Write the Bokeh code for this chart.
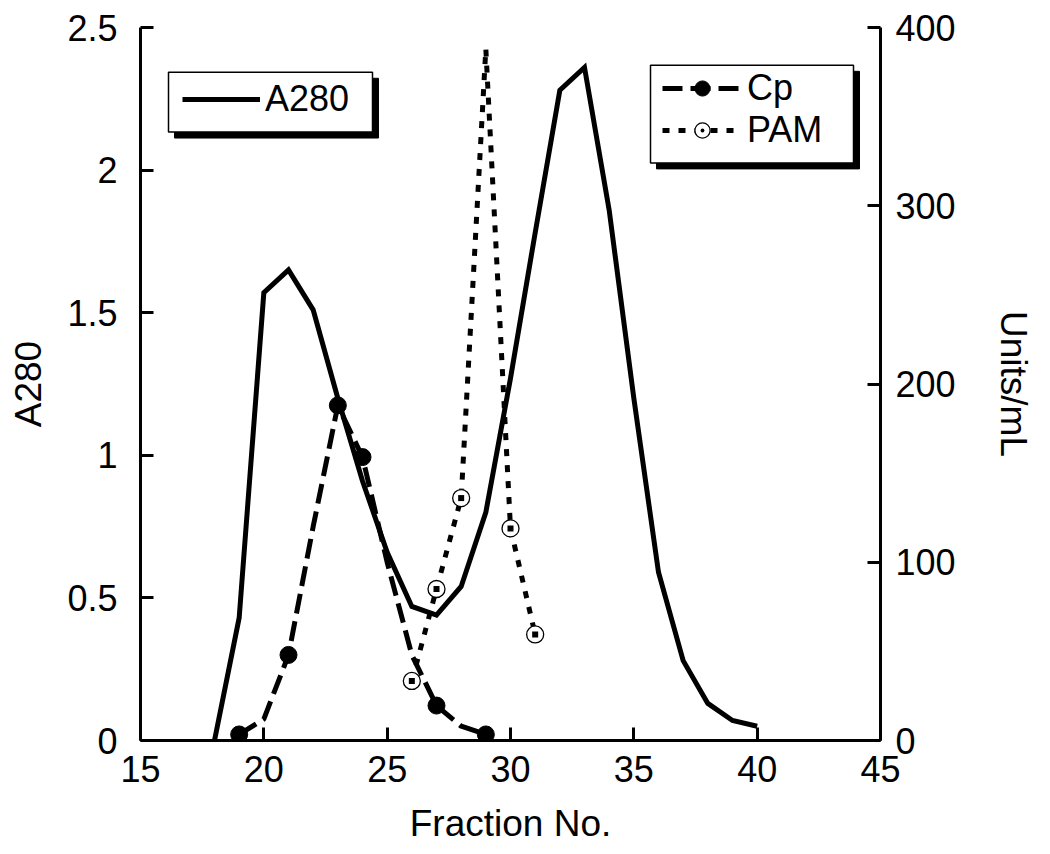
from bokeh.plotting import figure
from bokeh.models import (Range1d, LinearAxis, FixedTicker, CustomJSTickFormatter,
                          Legend, LegendItem, BoxAnnotation)
from bokeh.embed import file_html
from bokeh.resources import INLINE

# ---------------- data ----------------
a280_fraction = list(range(18, 41))
a280_values = [0, 0.43, 1.57, 1.65, 1.51, 1.2, 0.91, 0.66, 0.47, 0.44, 0.54, 0.8,
               1.27, 1.78, 2.28, 2.36, 1.86, 1.2, 0.59, 0.28, 0.13, 0.07, 0.05]

cp_fraction = [19, 20, 21, 22, 23, 24, 25, 26, 27, 28, 29]
cp_units = [3.4, 12, 48, 120, 188, 159, 100, 48, 19.6, 8, 3.4]
cp_marked_fractions = [19, 21, 23, 24, 27, 29]

pam_fraction = [26, 27, 28, 29, 30, 31]
pam_units = [33.4, 85, 136, 388, 119, 59.5]
pam_marked_fractions = [26, 27, 28, 30, 31]

x_ticks = [15, 20, 25, 30, 35, 40, 45]
a280_ticks = [0, 0.5, 1, 1.5, 2, 2.5]
units_ticks = [0, 100, 200, 300, 400]

# ---------------- layout ----------------
FONT = "Liberation Sans"
BL, BR, BT, BB = 140, 162, 27, 103
FW, FH = 740, 716
W, H = BL + FW + BR, BT + FH + BB
X0, X1, Y0, Y1, U1 = 15, 45, 0, 2.5, 400

p = figure(width=W, height=H, output_backend="svg", toolbar_location=None,
           x_range=Range1d(X0, X1), y_range=Range1d(Y0, Y1),
           min_border_left=BL, min_border_right=BR, min_border_top=BT, min_border_bottom=BB,
           background_fill_color="white", border_fill_color="white")
p.extra_y_ranges = {"units": Range1d(0, U1)}
p.outline_line_color = None
p.grid.visible = False

fmt = CustomJSTickFormatter(code="return tick.toString();")


def style_axis(ax, ticks, label, standoff, label_standoff):
    ax.ticker = FixedTicker(ticks=ticks)
    ax.formatter = fmt
    ax.axis_label = label
    ax.axis_line_width = 3
    ax.axis_line_color = "black"
    ax.major_tick_line_width = 3
    ax.major_tick_line_color = "black"
    ax.major_tick_in = 13
    ax.major_tick_out = 0
    ax.minor_tick_line_color = None
    ax.major_label_text_font = FONT
    ax.major_label_text_font_size = "36px"
    ax.major_label_text_color = "black"
    ax.major_label_standoff = standoff
    ax.axis_label_text_font = FONT
    ax.axis_label_text_font_size = "37px"
    ax.axis_label_text_font_style = "normal"
    ax.axis_label_text_color = "black"
    ax.axis_label_standoff = label_standoff


style_axis(p.xaxis[0], x_ticks, "Fraction No.", 15, 18)
style_axis(p.yaxis[0], a280_ticks, "A280", 23, 15)
right = LinearAxis(y_range_name="units")
style_axis(right, units_ticks, "Units/mL", 15, 34)
p.add_layout(right, "right")

# ---------------- series ----------------
a280_line = p.line(a280_fraction, a280_values, line_color="black", line_width=5,
                   line_join="miter")
cp_line = p.line(cp_fraction, cp_units, y_range_name="units", line_color="black",
                 line_width=5, line_dash="20 8")
pam_line = p.line(pam_fraction, pam_units, y_range_name="units", line_color="black",
                  line_width=5, line_dash="7 9")

cp_mx = [f for f in cp_fraction if f in cp_marked_fractions]
cp_my = [u for f, u in zip(cp_fraction, cp_units) if f in cp_marked_fractions]
cp_marks = p.scatter(cp_mx, cp_my, y_range_name="units", marker="circle", size=17,
                     fill_color="black", line_color="black")

pam_mx = [f for f in pam_fraction if f in pam_marked_fractions]
pam_my = [u for f, u in zip(pam_fraction, pam_units) if f in pam_marked_fractions]
pam_rings = p.scatter(pam_mx, pam_my, y_range_name="units", marker="circle_dot", size=17,
                      fill_color="white", line_color="black", line_width=1.3)
pam_dots = p.scatter(pam_mx, pam_my, y_range_name="units", marker="square", size=6,
                     fill_color="black", line_color=None)


# ---------------- legends (boxes with drop shadows) ----------------
def px_to_x(px):
    return X0 + (px - BL) * (X1 - X0) / FW


def py_to_y(py):
    return Y1 - (py - BT) * (Y1 - Y0) / FH


SHADOW = 6


def add_box(left, top, right_, bottom):
    # coordinates in figure pixels
    p.add_layout(BoxAnnotation(left=px_to_x(left + SHADOW), right=px_to_x(right_ + SHADOW),
                               top=py_to_y(top + SHADOW), bottom=py_to_y(bottom + SHADOW),
                               fill_color="black", fill_alpha=1, line_color="black",
                               line_alpha=1, line_width=1, level="annotation"))
    p.add_layout(BoxAnnotation(left=px_to_x(left), right=px_to_x(right_),
                               top=py_to_y(top), bottom=py_to_y(bottom),
                               fill_color="white", fill_alpha=1, line_color="black",
                               line_alpha=1, line_width=1.5, level="annotation"))


def add_legend(items, glyph_left, top, item_h, n, glyph_w, label_w):
    bottom = top + item_h * n
    lg = Legend(items=items, location=(glyph_left - BL, BT + FH - bottom),
                padding=0, margin=0, spacing=0, glyph_width=glyph_w, glyph_height=item_h,
                label_height=item_h, label_width=label_w, label_standoff=5,
                label_text_font=FONT, label_text_font_size="36px", label_text_color="black",
                border_line_color=None, background_fill_alpha=0)
    p.add_layout(lg, "center")


add_box(168, 72, 372, 132)
add_box(650, 65, 853, 163)
add_legend([LegendItem(label="A280", renderers=[a280_line])],
           182, 80, 44, 1, 78, 90)
add_legend([LegendItem(label="Cp", renderers=[cp_line, cp_marks]),
            LegendItem(label="PAM", renderers=[pam_line, pam_rings])],
           662, 78, 38, 2, 80, 90)

open("out.html", "w").write(file_html(p, INLINE))
